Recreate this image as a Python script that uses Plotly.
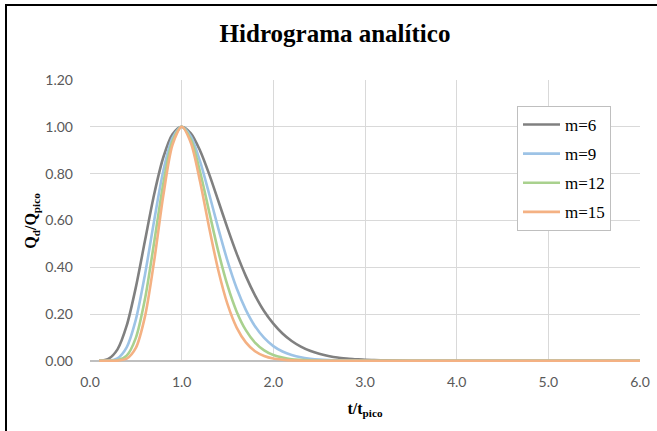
import plotly.graph_objects as go

# t/t_pico values
t_ratio = [0.1, 0.2, 0.3, 0.4, 0.5, 0.6, 0.7, 0.8, 0.9, 1.0,
           1.1, 1.2, 1.3, 1.4, 1.5, 1.6, 1.7, 1.8, 1.9, 2.0,
           2.1, 2.2, 2.3, 2.4, 2.5, 2.6, 2.7, 2.8, 2.9, 3.0,
           3.1, 3.2, 3.5, 4.0, 4.5, 5.0, 5.5, 6.0]

# Qd/Qpico series
q_m6 = [0.000, 0.008, 0.049, 0.150, 0.314, 0.514, 0.712, 0.870, 0.968, 1.000,
        0.972, 0.899, 0.798, 0.683, 0.567, 0.458, 0.362, 0.280, 0.212, 0.159,
        0.117, 0.085, 0.061, 0.043, 0.030, 0.021, 0.014, 0.010, 0.007, 0.004,
        0.003, 0.002, 0.000, 0.000, 0.000, 0.000, 0.000, 0.000]
q_m9 = [0.000, 0.001, 0.011, 0.058, 0.176, 0.369, 0.600, 0.812, 0.953, 1.000,
        0.959, 0.853, 0.713, 0.565, 0.427, 0.310, 0.218, 0.148, 0.098, 0.063,
        0.040, 0.025, 0.015, 0.009, 0.005, 0.003, 0.002, 0.001, 0.001, 0.000,
        0.000, 0.000, 0.000, 0.000, 0.000, 0.000, 0.000, 0.000]
q_m12 = [0.000, 0.000, 0.002, 0.022, 0.098, 0.265, 0.507, 0.758, 0.938, 1.000,
         0.945, 0.809, 0.637, 0.467, 0.322, 0.210, 0.131, 0.078, 0.045, 0.025,
         0.014, 0.007, 0.004, 0.002, 0.001, 0.000, 0.000, 0.000, 0.000, 0.000,
         0.000, 0.000, 0.000, 0.000, 0.000, 0.000, 0.000, 0.000]
q_m15 = [0.000, 0.000, 0.001, 0.009, 0.055, 0.190, 0.427, 0.707, 0.923, 1.000,
         0.932, 0.767, 0.569, 0.386, 0.242, 0.142, 0.079, 0.041, 0.021, 0.010,
         0.005, 0.002, 0.001, 0.000, 0.000, 0.000, 0.000, 0.000, 0.000, 0.000,
         0.000, 0.000, 0.000, 0.000, 0.000, 0.000, 0.000, 0.000]

series_names = ["m=6", "m=9", "m=12", "m=15"]
series_values = [q_m6, q_m9, q_m12, q_m15]
series_colors = ["#808080", "#9dc3e6", "#a9d18e", "#f4b183"]

x_ticks = [0, 1, 2, 3, 4, 5, 6]
y_ticks = [0.0, 0.2, 0.4, 0.6, 0.8, 1.0, 1.2]

fig = go.Figure()
for name, vals, col in zip(series_names, series_values, series_colors):
    fig.add_trace(go.Scatter(
        x=t_ratio, y=vals, name=name, mode="lines",
        line=dict(color=col, width=2.6, shape="spline", smoothing=0.8),
        legendgroup=name,
    ))

W, H = 657, 431
L, R, T, B = 90, 17, 80, 69
pw, ph = W - L - R, H - T - B

def px_x(p):
    return (p - L) / pw

def px_y(p):
    return (H - B - p) / ph

fig.update_layout(
    width=W, height=H,
    margin=dict(l=L, r=R, t=T, b=B, autoexpand=False),
    paper_bgcolor="white", plot_bgcolor="white",
    title=dict(text="<b>Hidrograma analítico</b>",
               font=dict(family="Liberation Serif", size=25, color="black"),
               x=px_x(335), xref="paper", xanchor="center",
               y=1 - 33 / H, yanchor="middle"),
    showlegend=True,
    legend=dict(x=px_x(517), y=px_y(106), xanchor="left", yanchor="top",
                bgcolor="white", bordercolor="#bfbfbf", borderwidth=1,
                font=dict(family="Liberation Serif", size=17, color="black"),
                traceorder="grouped", tracegroupgap=4, itemwidth=37),
    xaxis=dict(range=[0, 6], tickvals=x_ticks,
               ticktext=[f"{v:.1f}" for v in x_ticks],
               showgrid=True, gridcolor="#d9d9d9", gridwidth=1.3,
               zeroline=False, showline=False, ticks="", automargin=False,
               ticklabelstandoff=10,
               tickfont=dict(family="Lato", size=14, color="#595959"),
               title=dict(text="<b>t/t<sub>pico</sub></b>", standoff=13,
                          font=dict(family="Liberation Serif", size=16, color="black"))),
    yaxis=dict(range=[-0.005, 1.2], tickvals=y_ticks,
               ticktext=[f"{v:.2f}" for v in y_ticks],
               showgrid=True, gridcolor="#d9d9d9", gridwidth=1.3,
               zeroline=True, zerolinecolor="#bfbfbf", zerolinewidth=1.5,
               showline=False, ticks="", automargin=False,
               ticklabelstandoff=16,
               tickfont=dict(family="Lato", size=14, color="#595959"),
               title=dict(text="<b>Q<sub>d</sub>/Q<sub>pico</sub></b>", standoff=4,
                          font=dict(family="Liberation Serif", size=16, color="black"))),
    shapes=[dict(type="rect", xref="paper", yref="paper",
                 x0=px_x(6), x1=px_x(680), y0=px_y(450), y1=px_y(5),
                 line=dict(color="black", width=2), layer="above")],
)

fig.write_html("out.html", config={"displayModeBar": False},
               post_script="document.body.style.margin='0px';")
